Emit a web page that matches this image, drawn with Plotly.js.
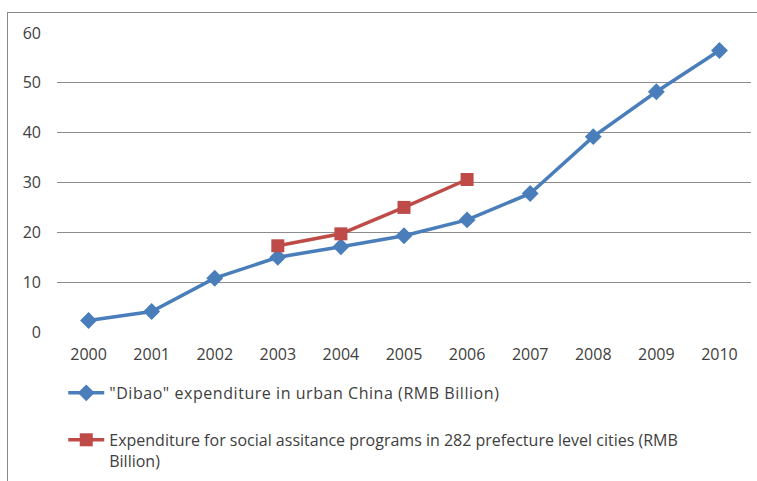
<!DOCTYPE html>
<html>
<head>
<meta charset="utf-8">
<script src="https://cdn.plot.ly/plotly-3.0.1.min.js"></script>
<style>
  html, body { margin: 0; padding: 0; background: #ffffff; }
  #wrap { position: relative; width: 757px; height: 481px; overflow: hidden; }
  #frame { position: absolute; left: 7px; top: 12px; width: 760px; height: 480px;
           border-left: 1px solid #8a8a8a; border-top: 1px solid #8a8a8a; pointer-events: none; }
  #chart { position: absolute; left: 0; top: 0; width: 757px; height: 481px; }
  /* slightly airier legend lettering; let the wider text show in full */
  #chart .legendtext { letter-spacing: 0.55px; }
  #chart .scrollbox { clip-path: none !important; }
</style>
</head>
<body>
<div id="wrap">
  <div id="chart"></div>
  <div id="frame"></div>
</div>
<script>
// Years on the category axis
const years = ['2000','2001','2002','2003','2004','2005','2006','2007','2008','2009','2010'];

// "Dibao" expenditure in urban China, RMB billion
const dibao = [2.3, 4.1, 10.8, 15.0, 17.1, 19.3, 22.5, 27.8, 39.2, 48.2, 56.5];

// Social assistance spending in 282 prefecture-level cities, RMB billion
const cityYears = ['2003','2004','2005','2006'];
const cityAssist = [17.3, 19.7, 25.0, 30.6];

const dibaoName = '"Dibao" expenditure in urban China (RMB Billion)';
const cityName = 'Expenditure for social assitance programs in 282 prefecture level cities (RMB<br>Billion)';

const blue = '#4a7ebb';
const red = '#be4b48';
const textColor = '#404040';
const font = 'Open Sans, sans-serif';

const traces = [
  {
    x: years, y: dibao, type: 'scatter', mode: 'lines+markers', name: dibaoName,
    line: { color: blue, width: 3.5 },
    marker: { symbol: 'diamond', size: 13, color: blue },
    legend: 'legend'
  },
  {
    x: cityYears, y: cityAssist, type: 'scatter', mode: 'lines+markers', name: cityName,
    line: { color: red, width: 3.5 },
    marker: { symbol: 'square', size: 13, color: red },
    legend: 'legend2'
  }
];

const legendBase = {
  xanchor: 'left', yanchor: 'top', x: 0.009, bgcolor: 'rgba(0,0,0,0)',
  font: { family: font, size: 16, color: textColor }, valign: 'top', itemwidth: 36
};

const layout = {
  width: 757, height: 481,
  margin: { l: 57, r: 6, t: 33, b: 149, autoexpand: false },
  paper_bgcolor: '#ffffff', plot_bgcolor: '#ffffff',
  font: { family: font, size: 16, color: textColor },
  xaxis: {
    type: 'category', categoryorder: 'array', categoryarray: years,
    range: [-0.5, 10.5], showgrid: false, zeroline: false, showline: false,
    ticks: '', ticklabelstandoff: 11,
    tickfont: { family: font, size: 16, color: textColor }
  },
  yaxis: {
    range: [0, 60], dtick: 10, showgrid: true, gridcolor: '#8c8c8c', gridwidth: 1,
    zeroline: false, showline: false, ticks: '', ticklabelstandoff: 15,
    tickfont: { family: font, size: 16, color: textColor }
  },
  showlegend: true,
  legend: Object.assign({}, legendBase, { y: -0.147 }),
  legend2: Object.assign({}, legendBase, { y: -0.304 })
};

Plotly.newPlot('chart', traces, layout, { staticPlot: true, displayModeBar: false });
</script>
</body>
</html>
